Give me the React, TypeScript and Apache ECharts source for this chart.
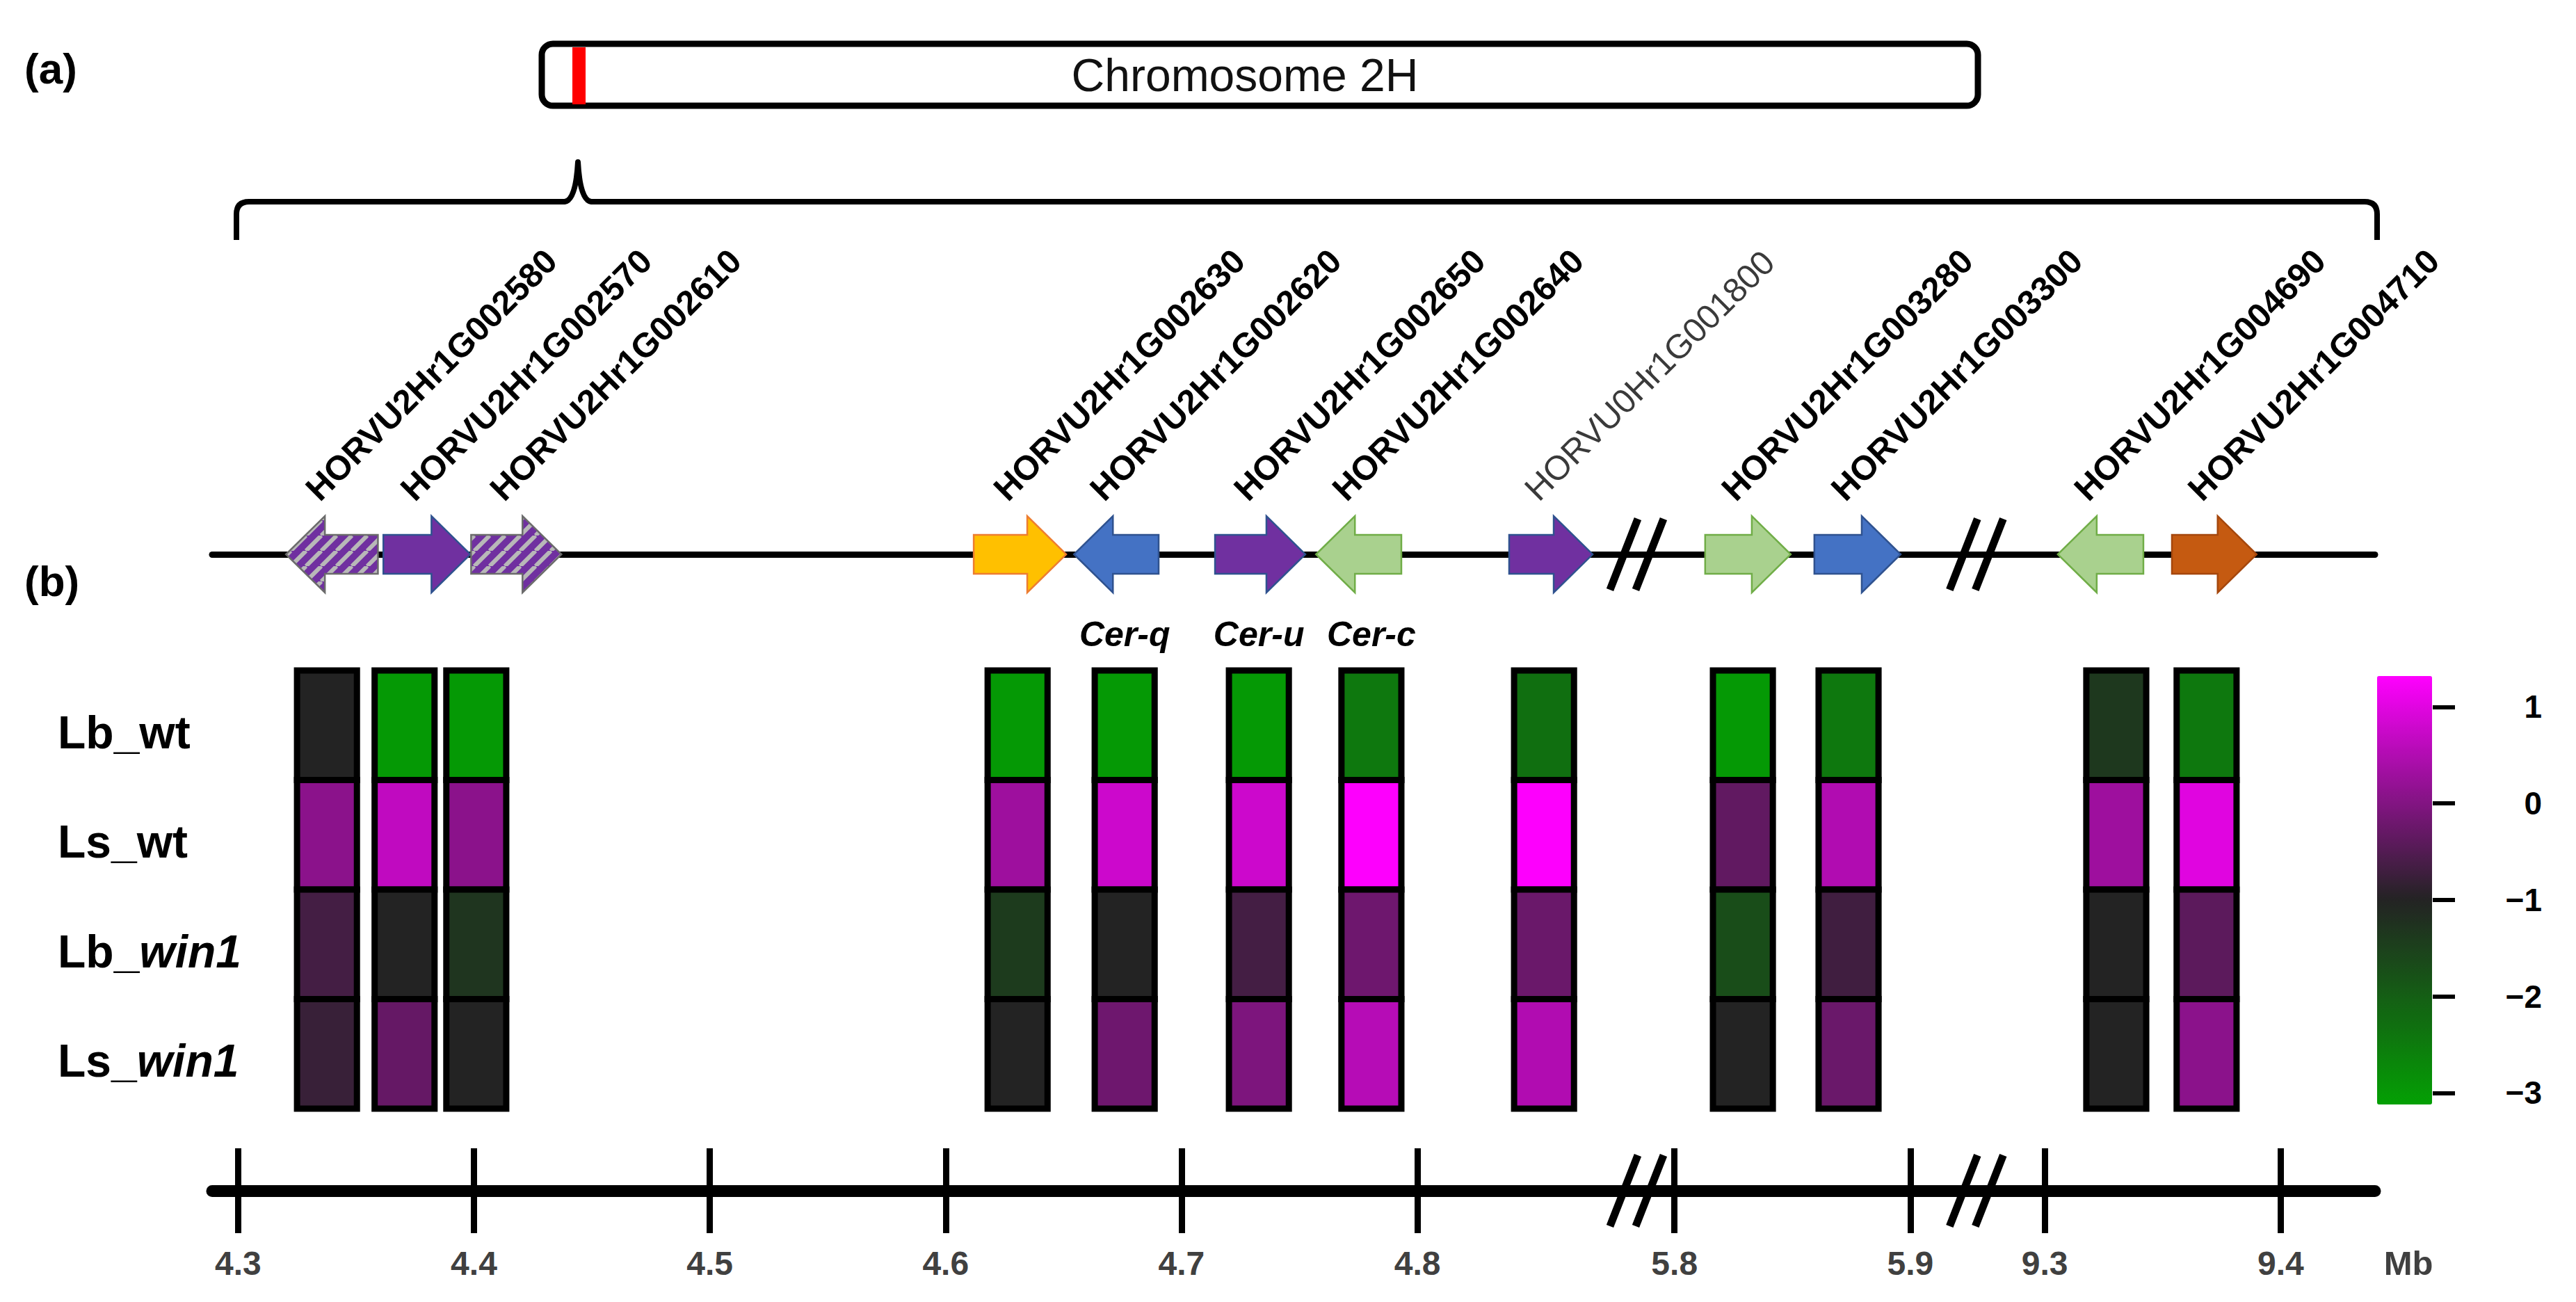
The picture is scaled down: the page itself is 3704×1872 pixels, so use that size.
import React, { useEffect, useRef } from 'react';
import * as echarts from 'echarts';

// ---------------- data ----------------
const geneIds = [
  'HORVU2Hr1G002580', 'HORVU2Hr1G002570', 'HORVU2Hr1G002610', 'HORVU2Hr1G002630',
  'HORVU2Hr1G002620', 'HORVU2Hr1G002650', 'HORVU2Hr1G002640', 'HORVU0Hr1G001800',
  'HORVU2Hr1G003280', 'HORVU2Hr1G003300', 'HORVU2Hr1G004690', 'HORVU2Hr1G004710',
];
const geneStartMb = [4.3203, 4.3616, 4.3988, 4.6119, 4.6544, 4.7142, 4.757, 4.8389, 5.813, 5.8593, 9.3055, 9.3539];
const geneEndMb = [4.3593, 4.3985, 4.4371, 4.6511, 4.6903, 4.7525, 4.7932, 4.8743, 5.8493, 5.8959, 9.3418, 9.3898];
const geneStrand = ['-', '+', '+', '+', '-', '+', '-', '+', '+', '+', '-', '+'];
const geneClass = ['hatched', 'purple', 'hatched', 'yellow', 'blue', 'purple', 'lightgreen', 'purple', 'lightgreen', 'blue', 'lightgreen', 'orange'];
const geneAlias = ['', '', '', '', 'Cer-q', 'Cer-u', 'Cer-c', '', '', '', '', ''];

const columnMb = [4.3377, 4.3706, 4.4010, 4.6305, 4.6759, 4.7328, 4.7805, 4.8537, 5.829, 5.8738, 9.3303, 9.3686];
const rowNames = ['Lb_wt', 'Ls_wt', 'Lb_win1', 'Ls_win1'];
const lbWt = [-1.0, -3.0, -3.0, -3.0, -3.0, -3.0, -2.45, -2.3, -3.0, -2.45, -1.35, -2.45];
const lsWt = [0.1, 0.65, 0.1, 0.3, 0.78, 0.78, 1.3, 1.3, -0.35, 0.5, 0.3, 1.0];
const lbWin1 = [-0.65, -1.0, -1.3, -1.4, -1.0, -0.65, -0.2, -0.25, -1.7, -0.7, -1.0, -0.4];
const lsWin1 = [-0.78, -0.3, -1.0, -1.0, -0.2, -0.05, 0.55, 0.5, -1.0, -0.25, -1.0, 0.1];

const axisTickMb = [4.3, 4.4, 4.5, 4.6, 4.7, 4.8, 5.8, 5.9, 9.3, 9.4];
const breakMb = [4.893, 5.928];
const colorbarTicks = [1, 0, -1, -2, -3];
const scaleMin = -3.12;
const scaleMax = 1.32;

// broken genomic axis: each segment starts at mb0, drawn from display unit d0 (1 unit = 0.1 Mb)
const segments = [
  { mb0: 4.3, d0: 0 },
  { mb0: 5.8, d0: 6.09 },
  { mb0: 9.3, d0: 7.66 },
];

// ---------------- helpers ----------------
function toD(mb: number): number {
  let s = segments[0];
  for (const g of segments) if (mb >= g.mb0 - 1e-9) s = g;
  return s.d0 + (mb - s.mb0) * 10;
}

const FONT = "'Liberation Sans', Arial, Helvetica, sans-serif";

function lerp(a: number[], b: number[], t: number): string {
  const c = a.map((v, i) => Math.round(v + (b[i] - v) * t));
  return `rgb(${c[0]},${c[1]},${c[2]})`;
}
function scaleColor(v: number): string {
  const dark = [35, 35, 35];
  const mag = [255, 0, 255];
  const grn = [4, 160, 4];
  if (v >= -1) return lerp(dark, mag, Math.min(1, (v + 1) / (scaleMax + 1)));
  return lerp(dark, grn, Math.min(1, (-1 - v) / (-1 - scaleMin)));
}
function colorStops(n: number): string[] {
  const out: string[] = [];
  for (let i = 0; i <= n; i++) out.push(scaleColor(scaleMin + ((scaleMax - scaleMin) * i) / n));
  return out;
}

function makeHatch(): HTMLCanvasElement {
  const s = 22;
  const c = document.createElement('canvas');
  c.width = s;
  c.height = s;
  const ctx = c.getContext('2d')!;
  ctx.fillStyle = '#7030A0';
  ctx.fillRect(0, 0, s, s);
  ctx.strokeStyle = '#B8B8B8';
  ctx.lineWidth = 6;
  for (const o of [-s, 0, s]) {
    ctx.beginPath();
    ctx.moveTo(o, s);
    ctx.lineTo(o + s, 0);
    ctx.stroke();
  }
  return c;
}

const bracketD =
  'M340 345 L340 308 Q340 290 358 290 L812 290 Q828 288 831 233 Q834 288 850 290 L3400 290 Q3418 290 3418 308 L3418 345';
echarts.graphic.registerShape('regionBracket', echarts.graphic.extendPath(bracketD, {}) as any);

const D_MIN = -0.11;
const D_MAX = 9.06;
const GRID_LEFT = 305;
const GRID_W = 3110;
const HEAD_LEN = 56;
const COL_W = 0.254;
const LABEL_ROT = (45 * Math.PI) / 180;

function buildOption() {
  const hatch = makeHatch();
  const geneStyle: Record<string, { fill: any; stroke: string }> = {
    hatched: { fill: { image: hatch, repeat: 'repeat' }, stroke: '#6b6b6b' },
    purple: { fill: '#7030A0', stroke: '#2F528F' },
    yellow: { fill: '#FFC000', stroke: '#ED7D31' },
    blue: { fill: '#4472C4', stroke: '#2F528F' },
    lightgreen: { fill: '#A9D18E', stroke: '#70AD47' },
    orange: { fill: '#C55A11', stroke: '#A5470D' },
  };

  const geneData = geneIds.map((_, i) => [toD(geneStartMb[i]), toD(geneEndMb[i])]);
  const rowsData = [lbWt, lsWt, lbWin1, lsWin1];
  const heatData: number[][] = [];
  rowsData.forEach((arr, r) => arr.forEach((v, c) => heatData.push([toD(columnMb[c]), r, v])));
  const breakData = breakMb.map((b) => [toD(b), 0]);
  const tickD = axisTickMb.map(toD);

  const renderBreak = (params: any, api: any) => {
    const p = api.coord([api.value(0), 0]);
    const children: any[] = [];
    for (const k of [0, 1]) {
      const sx = p[0] + (k - 0.5) * 37;
      children.push({
        type: 'line',
        shape: { x1: sx - 20, y1: p[1] + 51, x2: sx + 20, y2: p[1] - 51 },
        style: { stroke: '#000', lineWidth: 11 },
      });
    }
    return { type: 'group', children };
  };

  return {
    animation: false,
    backgroundColor: '#ffffff',
    textStyle: { fontFamily: FONT },
    grid: [
      { left: GRID_LEFT, width: GRID_W, top: 742, height: 110 },
      { left: GRID_LEFT, width: GRID_W, top: 964, height: 630 },
      { left: GRID_LEFT, width: GRID_W, top: 1650, height: 62 },
      { left: 3530, width: 32, top: 972, height: 616 },
    ],
    xAxis: [
      {
        gridIndex: 0, type: 'value', min: D_MIN, max: D_MAX,
        axisLine: { show: true, onZero: true, lineStyle: { color: '#000', width: 9 } },
        axisTick: { show: false }, axisLabel: { show: false }, splitLine: { show: false },
      },
      {
        gridIndex: 1, type: 'value', min: D_MIN, max: D_MAX,
        axisLine: { show: false }, axisTick: { show: false }, axisLabel: { show: false }, splitLine: { show: false },
      },
      {
        gridIndex: 2, type: 'value', min: D_MIN, max: D_MAX, position: 'bottom',
        axisLine: { show: true, onZero: false, lineStyle: { color: '#000', width: 17 } },
        axisTick: { show: true, customValues: tickD, length: 61, lineStyle: { color: '#000', width: 9 } },
        axisLabel: {
          show: true, customValues: tickD, margin: 80,
          fontSize: 48, fontWeight: 'bold', color: '#404040', fontFamily: FONT,
          formatter: (v: number) => {
            const i = tickD.findIndex((t) => Math.abs(t - v) < 1e-6);
            return i >= 0 ? axisTickMb[i].toFixed(1) : '';
          },
        },
        splitLine: { show: false },
      },
      {
        gridIndex: 2, type: 'value', min: D_MIN, max: D_MAX, position: 'bottom',
        axisLine: { show: false, onZero: false },
        axisTick: { show: true, inside: true, customValues: tickD, length: 61, lineStyle: { color: '#000', width: 9 } },
        axisLabel: { show: false }, splitLine: { show: false },
      },
      {
        gridIndex: 3, type: 'value', min: 0, max: 1,
        axisLine: { show: false }, axisTick: { show: false }, axisLabel: { show: false }, splitLine: { show: false },
      },
    ],
    yAxis: [
      {
        gridIndex: 0, type: 'value', min: -1, max: 1,
        axisLine: { show: false }, axisTick: { show: false }, axisLabel: { show: false }, splitLine: { show: false },
      },
      {
        gridIndex: 1, type: 'category', data: rowNames, inverse: true,
        axisLine: { show: false }, axisTick: { show: false }, splitLine: { show: false },
        axisLabel: {
          show: true, align: 'left', margin: 222, padding: [20, 0, 0, 0],
          fontSize: 66, fontWeight: 'bold', color: '#000', fontFamily: FONT,
          formatter: (v: string) => (v.endsWith('win1') ? `${v.slice(0, 3)}{i|win1}` : v),
          rich: { i: { fontSize: 66, fontWeight: 'bold', fontStyle: 'italic', color: '#000', fontFamily: FONT } },
        },
      },
      {
        gridIndex: 2, type: 'value', min: 0, max: 1,
        axisLine: { show: false }, axisTick: { show: false }, axisLabel: { show: false }, splitLine: { show: false },
      },
      {
        gridIndex: 3, type: 'value', min: scaleMin, max: scaleMax, position: 'right',
        axisLine: { show: false },
        axisTick: { show: true, inside: true, length: 32, customValues: colorbarTicks, lineStyle: { color: '#000', width: 6 } },
        axisLabel: {
          show: true, customValues: colorbarTicks, align: 'right', margin: 93,
          fontSize: 46, fontWeight: 'bold', color: '#000', fontFamily: FONT,
          formatter: (v: number) => (v < 0 ? `\u2212${Math.abs(v)}` : `${v}`),
        },
        splitLine: { show: false },
      },
    ],
    visualMap: {
      type: 'continuous', seriesIndex: 2, dimension: 2,
      min: scaleMin, max: scaleMax, calculable: false, show: true,
      left: 3418, top: 972, itemWidth: 79, itemHeight: 616, padding: 0,
      inRange: { color: colorStops(44) },
    },
    series: [
      {
        type: 'custom', name: 'genes', xAxisIndex: 0, yAxisIndex: 0, clip: false,
        encode: { x: [0, 1] }, data: geneData,
        renderItem: (params: any, api: any) => {
          const i = params.dataIndex;
          const a = api.coord([api.value(0), 0]);
          const b = api.coord([api.value(1), 0]);
          const cy = a[1];
          const hh = api.size([0, 1])[1];
          const bh = hh * 0.51;
          const x0 = a[0];
          const x1 = b[0];
          const pts =
            geneStrand[i] === '+'
              ? [[x0, cy - bh], [x1 - HEAD_LEN, cy - bh], [x1 - HEAD_LEN, cy - hh], [x1, cy], [x1 - HEAD_LEN, cy + hh], [x1 - HEAD_LEN, cy + bh], [x0, cy + bh]]
              : [[x1, cy - bh], [x0 + HEAD_LEN, cy - bh], [x0 + HEAD_LEN, cy - hh], [x0, cy], [x0 + HEAD_LEN, cy + hh], [x0 + HEAD_LEN, cy + bh], [x1, cy + bh]];
          const st = geneStyle[geneClass[i]];
          const unanchored = geneIds[i].startsWith('HORVU0');
          const children: any[] = [
            { type: 'polygon', shape: { points: pts }, style: { fill: st.fill, stroke: st.stroke, lineWidth: 2.5 } },
            {
              type: 'text', x: (x0 + x1) / 2 - 12, y: cy - hh - 14, rotation: LABEL_ROT,
              style: {
                text: geneIds[i], fontSize: 49, fontFamily: FONT,
                fontWeight: unanchored ? 'normal' : 'bold',
                fill: unanchored ? '#3a3a3a' : '#000',
                align: 'left', verticalAlign: 'bottom',
              },
            },
          ];
          if (geneAlias[i]) {
            const ax = api.coord([toD(columnMb[i]), 0])[0];
            children.push({
              type: 'text', x: ax, y: cy + hh + 60,
              style: {
                text: geneAlias[i], fontSize: 50, fontFamily: FONT, fontWeight: 'bold', fontStyle: 'italic',
                fill: '#000', align: 'center', verticalAlign: 'middle',
              },
            });
          }
          return { type: 'group', children };
        },
      },
      {
        type: 'custom', name: 'trackBreaks', xAxisIndex: 0, yAxisIndex: 0, clip: false,
        encode: { x: 0, y: 1 }, data: breakData, renderItem: renderBreak,
      },
      {
        type: 'custom', name: 'expression', xAxisIndex: 1, yAxisIndex: 1, clip: false,
        encode: { x: 0, y: 1 }, data: heatData,
        renderItem: (params: any, api: any) => {
          const c = api.coord([api.value(0), api.value(1)]);
          const w = api.size([COL_W, 0])[0];
          const h = api.size([0, 1])[1];
          return {
            type: 'rect',
            shape: { x: c[0] - w / 2, y: c[1] - h / 2, width: w, height: h },
            style: { fill: api.visual('color'), stroke: '#000', lineWidth: 9 },
          };
        },
      },
      {
        type: 'custom', name: 'axisBreaks', xAxisIndex: 2, yAxisIndex: 2, clip: false,
        encode: { x: 0, y: 1 }, data: breakData, renderItem: renderBreak,
      },
    ],
    graphic: [
      { type: 'text', x: 35, y: 98, style: { text: '(a)', fontSize: 62, fontWeight: 'bold', fontFamily: FONT, fill: '#000', align: 'left', verticalAlign: 'middle' } },
      { type: 'text', x: 35, y: 835, style: { text: '(b)', fontSize: 62, fontWeight: 'bold', fontFamily: FONT, fill: '#000', align: 'left', verticalAlign: 'middle' } },
      { type: 'rect', shape: { x: 779, y: 63, width: 2065, height: 89, r: 16 }, style: { fill: '#fff', stroke: '#000', lineWidth: 9 } },
      { type: 'rect', shape: { x: 823, y: 68, width: 19, height: 82 }, style: { fill: '#FF0000' } },
      { type: 'text', x: 1790, y: 108, style: { text: 'Chromosome 2H', fontSize: 66, fontFamily: FONT, fill: '#111', align: 'center', verticalAlign: 'middle' } },
      { type: 'regionBracket', x: 0, y: 0, scaleX: 1, scaleY: 1, style: { fill: 'none', stroke: '#000', lineWidth: 8, lineJoin: 'round' } },
      { type: 'text', x: 3463, y: 1816, style: { text: 'Mb', fontSize: 49, fontWeight: 'bold', fontFamily: FONT, fill: '#404040', align: 'center', verticalAlign: 'middle' } },
    ],
  };
}

export default function App() {
  const ref = useRef<HTMLDivElement>(null);
  useEffect(() => {
    if (!ref.current) return;
    const chart = echarts.init(ref.current, null, { renderer: 'svg' });
    chart.setOption(buildOption() as any);
    return () => chart.dispose();
  }, []);
  return (
    <div
      ref={ref}
      style={{ position: 'fixed', left: 0, top: 0, width: 3704, height: 1872, background: '#fff' }}
    />
  );
}
